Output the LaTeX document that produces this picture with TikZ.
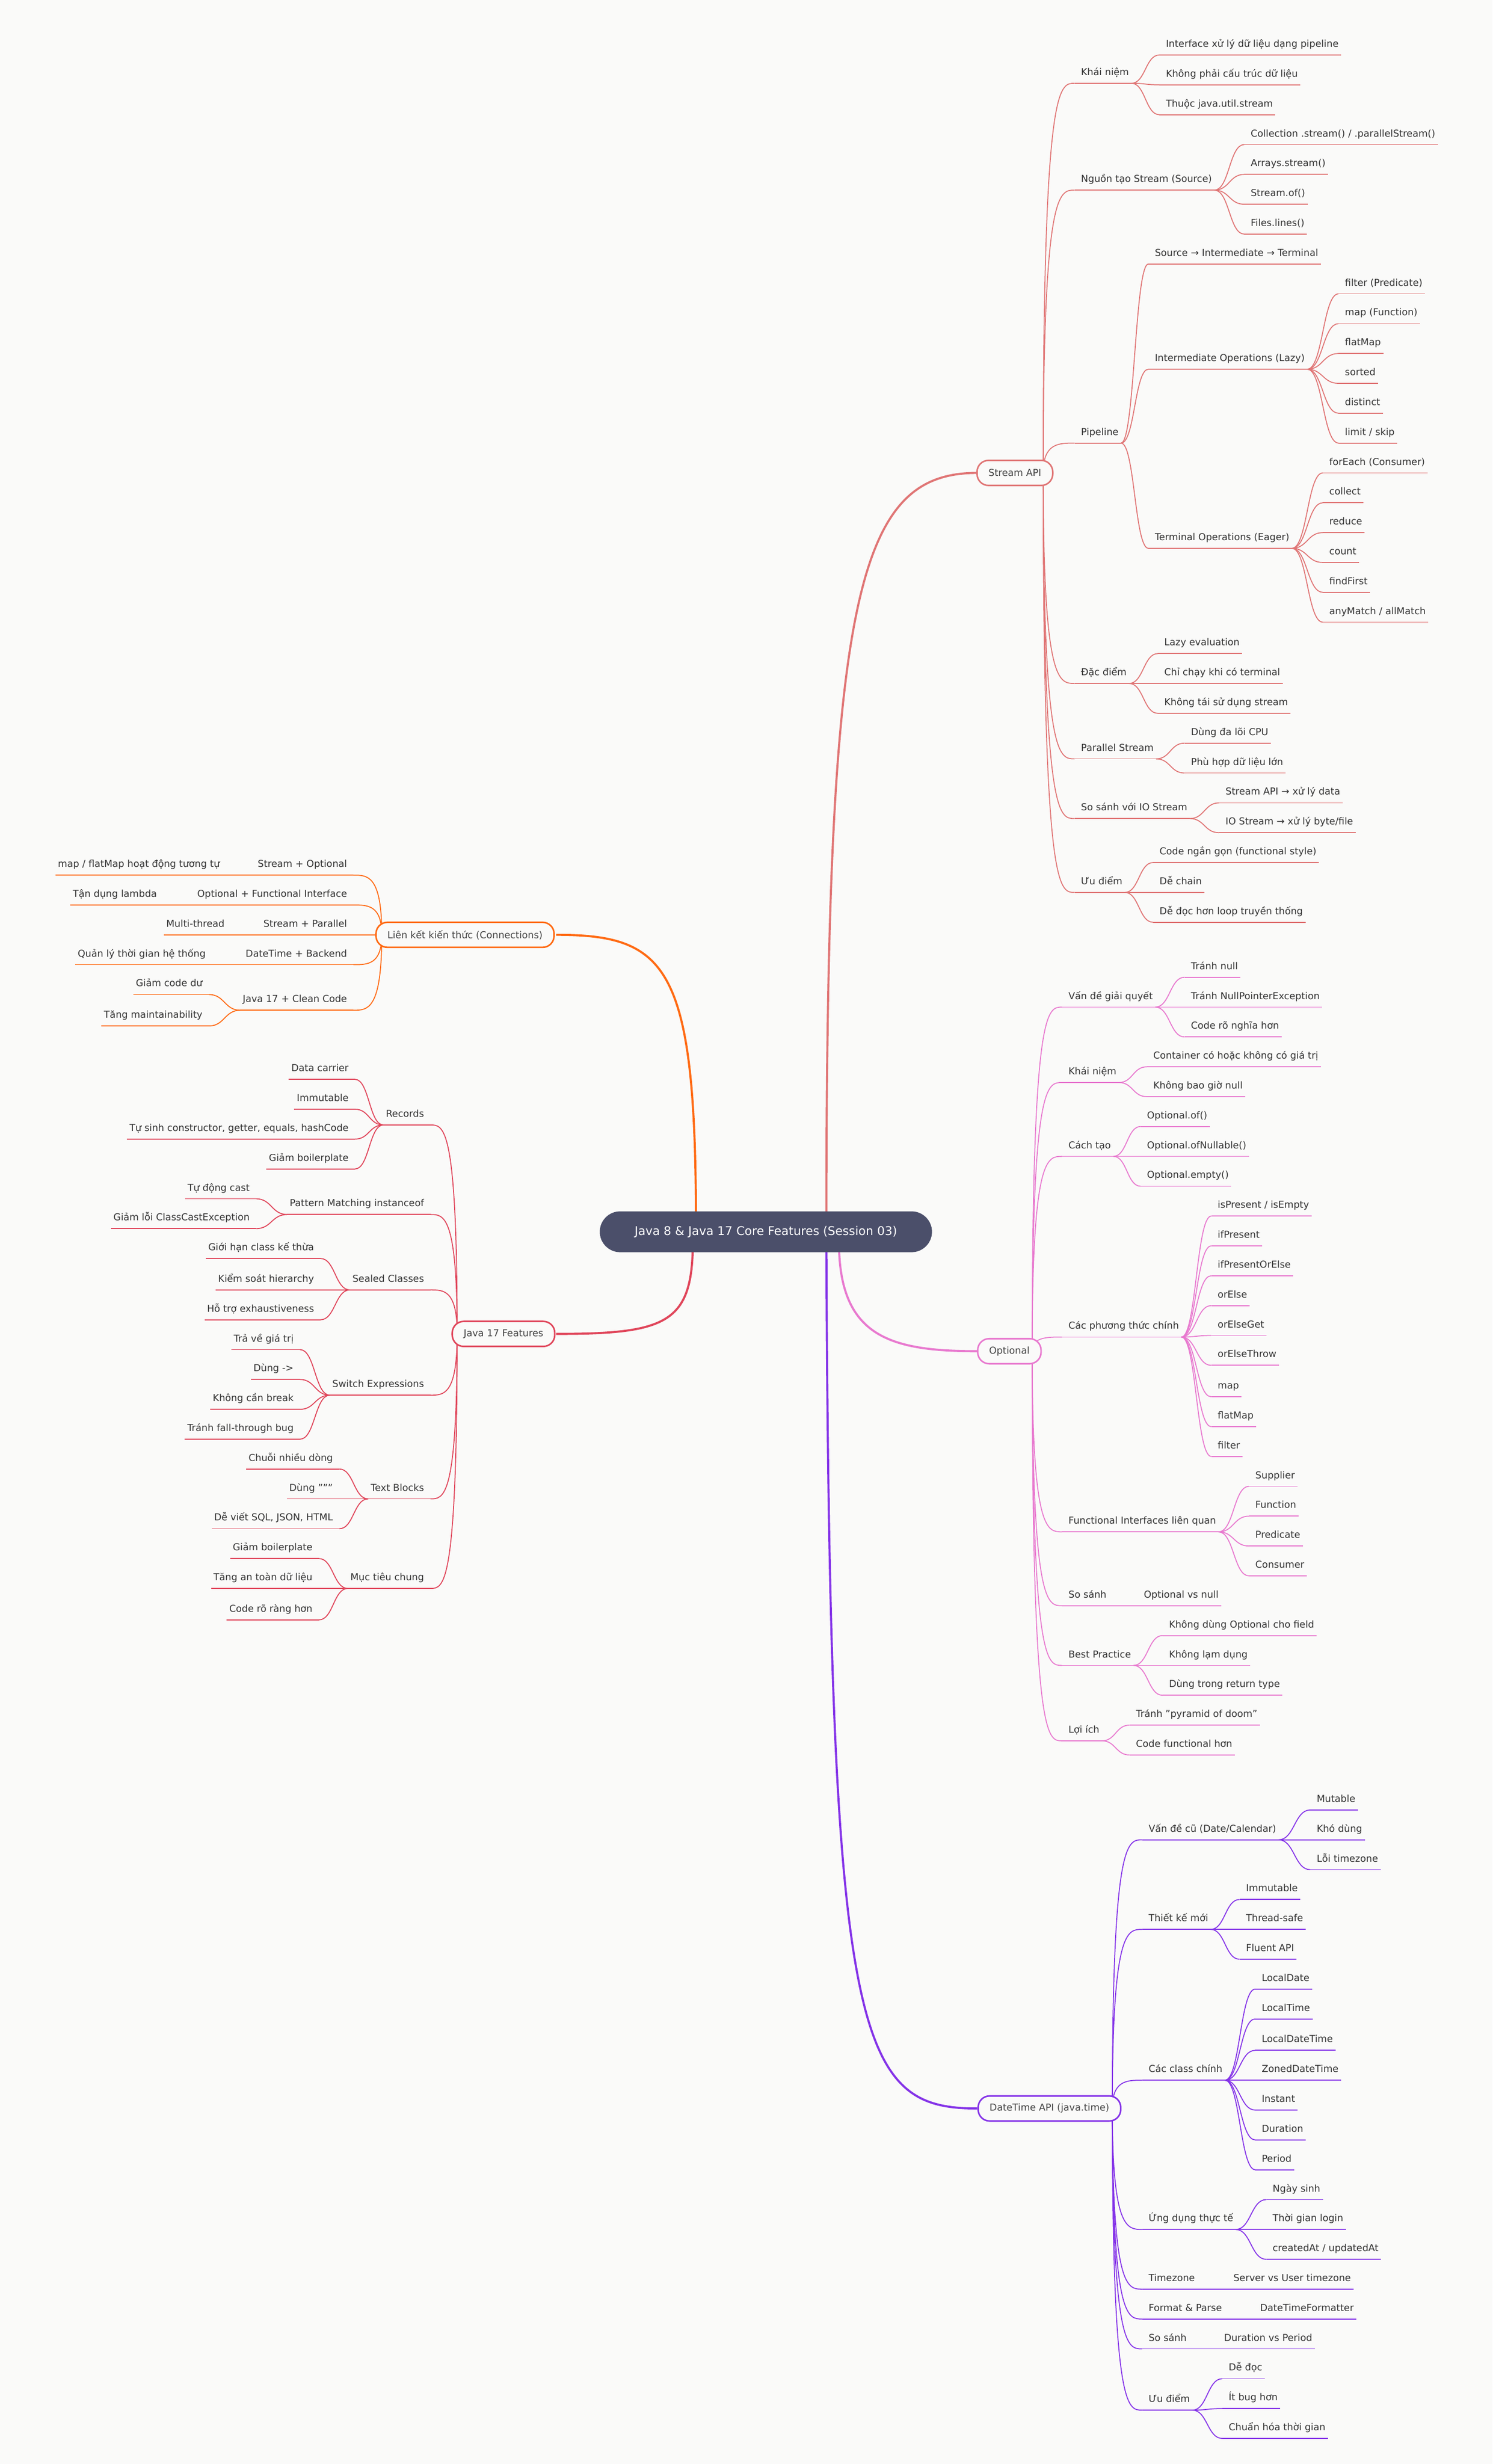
\documentclass[tikz,border=0pt]{standalone}
\usepackage{fontspec}
\setmainfont{DejaVu Sans}
\usetikzlibrary{calc}
\definecolor{bg}{HTML}{FAFAF9}
\definecolor{txtc}{HTML}{333333}
\definecolor{boxtxt}{HTML}{444444}
\definecolor{rootc}{HTML}{4B4F6A}
\definecolor{cstream}{HTML}{E07575}
\definecolor{copt}{HTML}{E879CF}
\definecolor{cdt}{HTML}{8433E8}
\definecolor{cconn}{HTML}{FF6A13}
\definecolor{cjava}{HTML}{E0455A}
\colorlet{cur}{cstream}
\newcommand\RT[4]{%
  \node[tx,anchor=base west] (#1) at (#2,{#3+3}) {#4};
  \coordinate (#1L) at ({#2-4},{#3+8});
  \coordinate (#1R) at ($(#1.east |- #1L)+(1.5,0)$);
  \draw[ul] (#1L) -- (#1R);}
\newcommand\LT[4]{%
  \node[tx,anchor=base east] (#1) at (#2,{#3+3}) {#4};
  \coordinate (#1R) at ({#2+4},{#3+8});
  \coordinate (#1L) at ($(#1.west |- #1R)+(-1.5,0)$);
  \draw[ul] (#1L) -- (#1R);}
% right connector parent -> child
\newcommand\RC[2]{\draw[cn] let \p1=(#1R), \p2=(#2L) in (\p1) .. controls ({(\x1+\x2)/2},\y1) and ({(\x1+\x2)/2},\y2) .. (\p2);}
\newcommand\LC[2]{\draw[cn] let \p1=(#1L), \p2=(#2R) in (\p1) .. controls ({(\x1+\x2)/2},\y1) and ({(\x1+\x2)/2},\y2) .. (\p2);}
% hub connectors
\newcommand\HR[2]{\draw[cn] let \p1=(#1), \p2=(#2L) in (\p1) .. controls (\x1,\y2) and ({(\x1+\x2)/2},\y2) .. (\p2);}
\newcommand\HL[2]{\draw[cn] let \p1=(#1), \p2=(#2R) in (\p1) .. controls (\x1,\y2) and ({(\x1+\x2)/2},\y2) .. (\p2);}
\begin{document}
\begin{tikzpicture}[x=0.0577cm,y=-0.0577cm,
  tx/.style={font=\fontsize{10}{12}\selectfont, text=txtc, inner sep=0pt},
  ul/.style={draw=cur, line width=1pt},
  cn/.style={draw=cur, line width=1pt},
  thick line/.style={line width=2.2pt},
  brbox/.style={draw=cur, fill=bg, line width=1.6pt, rounded corners=0.42cm, minimum height=0.92cm, inner xsep=0.42cm, font=\fontsize{10}{12}\selectfont, text=boxtxt}]
\fill[bg] (0,0) rectangle (950,1568.3);
\useasboundingbox (0,0) rectangle (950,1568.3);

% ---------- root connectors ----------
\coordinate (rtS) at (526,780);
\coordinate (rtO) at (534,790);
\coordinate (rtD) at (526,790);
\coordinate (rtJ) at (441,790);
\coordinate (rtC) at (443,780);
\coordinate (bS) at (622,301);
\coordinate (bO) at (622,860);
\coordinate (bD) at (622,1342);
\coordinate (bJ) at (354,849);
\coordinate (bC) at (354,595);
\draw[cstream,thick line] (rtS) .. controls (526,380) and (545,301) .. (bS);
\draw[copt,thick line] (rtO) .. controls (534,850) and (565,860) .. (bO);
\draw[cdt,thick line] (rtD) .. controls (528,1300) and (545,1342) .. (bD);
\draw[cjava,thick line] (rtJ) .. controls (441,842) and (425,849) .. (bJ);
\draw[cconn,thick line] (rtC) .. controls (443,615) and (425,595) .. (bC);

% ================= STREAM API =================
\colorlet{cur}{cstream}
\coordinate (hS) at (664,301);
\RT{s1}{688}{45}{Khái niệm}
\RT{s11}{742}{27}{Interface xử lý dữ liệu dạng pipeline}
\RT{s12}{742}{46}{Không phải cấu trúc dữ liệu}
\RT{s13}{742}{65}{Thuộc java.util.stream}
\RT{s2}{688}{113}{Nguồn tạo Stream (Source)}
\RT{s21}{796}{84}{Collection .stream() / .parallelStream()}
\RT{s22}{796}{103}{Arrays.stream()}
\RT{s23}{796}{122}{Stream.of()}
\RT{s24}{796}{141}{Files.lines()}
\RT{s3}{688}{274}{Pipeline}
\RT{s31}{735}{160}{Source → Intermediate → Terminal}
\RT{s32}{735}{227}{Intermediate Operations (Lazy)}
\RT{s321}{856}{179}{filter (Predicate)}
\RT{s322}{856}{198}{map (Function)}
\RT{s323}{856}{217}{flatMap}
\RT{s324}{856}{236}{sorted}
\RT{s325}{856}{255}{distinct}
\RT{s326}{856}{274}{limit / skip}
\RT{s33}{735}{341}{Terminal Operations (Eager)}
\RT{s331}{846}{293}{forEach (Consumer)}
\RT{s332}{846}{312}{collect}
\RT{s333}{846}{331}{reduce}
\RT{s334}{846}{350}{count}
\RT{s335}{846}{369}{findFirst}
\RT{s336}{846}{388}{anyMatch / allMatch}
\RT{s4}{688}{427}{Đặc điểm}
\RT{s41}{741}{408}{Lazy evaluation}
\RT{s42}{741}{427}{Chỉ chạy khi có terminal}
\RT{s43}{741}{446}{Không tái sử dụng stream}
\RT{s5}{688}{475}{Parallel Stream}
\RT{s51}{758}{465}{Dùng đa lõi CPU}
\RT{s52}{758}{484}{Phù hợp dữ liệu lớn}
\RT{s6}{688}{513}{So sánh với IO Stream}
\RT{s61}{780}{503}{Stream API → xử lý data}
\RT{s62}{780}{522}{IO Stream → xử lý byte/file}
\RT{s7}{688}{560}{Ưu điểm}
\RT{s71}{738}{541}{Code ngắn gọn (functional style)}
\RT{s72}{738}{560}{Dễ chain}
\RT{s73}{738}{579}{Dễ đọc hơn loop truyền thống}
\foreach \c in {s1,s2,s3,s4,s5,s6,s7} {\HR{hS}{\c}}
\foreach \c in {s11,s12,s13} {\RC{s1}{\c}}
\foreach \c in {s21,s22,s23,s24} {\RC{s2}{\c}}
\foreach \c in {s31,s32,s33} {\RC{s3}{\c}}
\foreach \c in {s321,s322,s323,s324,s325,s326} {\RC{s32}{\c}}
\foreach \c in {s331,s332,s333,s334,s335,s336} {\RC{s33}{\c}}
\foreach \c in {s41,s42,s43} {\RC{s4}{\c}}
\foreach \c in {s51,s52} {\RC{s5}{\c}}
\foreach \c in {s61,s62} {\RC{s6}{\c}}
\foreach \c in {s71,s72,s73} {\RC{s7}{\c}}
\node[brbox] (stream) at (646,301) {Stream API};

% ================= OPTIONAL =================
\colorlet{cur}{copt}
\coordinate (hO) at (657,860);
\RT{o1}{680}{633}{Vấn đề giải quyết}
\RT{o11}{758}{614}{Tránh null}
\RT{o12}{758}{633}{Tránh NullPointerException}
\RT{o13}{758}{652}{Code rõ nghĩa hơn}
\RT{o2}{680}{681}{Khái niệm}
\RT{o21}{734}{671}{Container có hoặc không có giá trị}
\RT{o22}{734}{690}{Không bao giờ null}
\RT{o3}{680}{728}{Cách tạo}
\RT{o31}{730}{709}{Optional.of()}
\RT{o32}{730}{728}{Optional.ofNullable()}
\RT{o33}{730}{747}{Optional.empty()}
\RT{o4}{680}{843}{Các phương thức chính}
\RT{o41}{775}{766}{isPresent / isEmpty}
\RT{o42}{775}{785}{ifPresent}
\RT{o43}{775}{804}{ifPresentOrElse}
\RT{o44}{775}{823}{orElse}
\RT{o45}{775}{842}{orElseGet}
\RT{o46}{775}{861}{orElseThrow}
\RT{o47}{775}{881}{map}
\RT{o48}{775}{900}{flatMap}
\RT{o49}{775}{919}{filter}
\RT{o5}{680}{967}{Functional Interfaces liên quan}
\RT{o51}{799}{938}{Supplier}
\RT{o52}{799}{957}{Function}
\RT{o53}{799}{976}{Predicate}
\RT{o54}{799}{995}{Consumer}
\RT{o6}{680}{1014}{So sánh}
\RT{o61}{728}{1014}{Optional vs null}
\RT{o7}{680}{1052}{Best Practice}
\RT{o71}{744}{1033}{Không dùng Optional cho field}
\RT{o72}{744}{1052}{Không lạm dụng}
\RT{o73}{744}{1071}{Dùng trong return type}
\RT{o8}{680}{1100}{Lợi ích}
\RT{o81}{723}{1090}{Tránh "pyramid of doom"}
\RT{o82}{723}{1109}{Code functional hơn}
\foreach \c in {o1,o2,o3,o4,o5,o6,o7,o8} {\HR{hO}{\c}}
\foreach \c in {o11,o12,o13} {\RC{o1}{\c}}
\foreach \c in {o21,o22} {\RC{o2}{\c}}
\foreach \c in {o31,o32,o33} {\RC{o3}{\c}}
\foreach \c in {o41,o42,o43,o44,o45,o46,o47,o48,o49} {\RC{o4}{\c}}
\foreach \c in {o51,o52,o53,o54} {\RC{o5}{\c}}
\RC{o6}{o61}
\foreach \c in {o71,o72,o73} {\RC{o7}{\c}}
\foreach \c in {o81,o82} {\RC{o8}{\c}}
\node[brbox] (optional) at (642.5,860) {Optional};

% ================= DATETIME =================
\colorlet{cur}{cdt}
\coordinate (hD) at (708,1342);
\RT{d1}{731}{1163}{Vấn đề cũ (Date/Calendar)}
\RT{d11}{838}{1144}{Mutable}
\RT{d12}{838}{1163}{Khó dùng}
\RT{d13}{838}{1182}{Lỗi timezone}
\RT{d2}{731}{1220}{Thiết kế mới}
\RT{d21}{793}{1201}{Immutable}
\RT{d22}{793}{1220}{Thread-safe}
\RT{d23}{793}{1239}{Fluent API}
\RT{d3}{731}{1316}{Các class chính}
\RT{d31}{803}{1258}{LocalDate}
\RT{d32}{803}{1277}{LocalTime}
\RT{d33}{803}{1297}{LocalDateTime}
\RT{d34}{803}{1316}{ZonedDateTime}
\RT{d35}{803}{1335}{Instant}
\RT{d36}{803}{1354}{Duration}
\RT{d37}{803}{1373}{Period}
\RT{d4}{731}{1411}{Ứng dụng thực tế}
\RT{d41}{810}{1392}{Ngày sinh}
\RT{d42}{810}{1411}{Thời gian login}
\RT{d43}{810}{1430}{createdAt / updatedAt}
\RT{d5}{731}{1449}{Timezone}
\RT{d51}{785}{1449}{Server vs User timezone}
\RT{d6}{731}{1468}{Format \& Parse}
\RT{d61}{802}{1468}{DateTimeFormatter}
\RT{d7}{731}{1487}{So sánh}
\RT{d71}{779}{1487}{Duration vs Period}
\RT{d8}{731}{1526}{Ưu điểm}
\RT{d81}{782}{1506}{Dễ đọc}
\RT{d82}{782}{1525}{Ít bug hơn}
\RT{d83}{782}{1544}{Chuẩn hóa thời gian}
\foreach \c in {d1,d2,d3,d4,d5,d6,d7,d8} {\HR{hD}{\c}}
\foreach \c in {d11,d12,d13} {\RC{d1}{\c}}
\foreach \c in {d21,d22,d23} {\RC{d2}{\c}}
\foreach \c in {d31,d32,d33,d34,d35,d36,d37} {\RC{d3}{\c}}
\foreach \c in {d41,d42,d43} {\RC{d4}{\c}}
\RC{d5}{d51}
\RC{d6}{d61}
\RC{d7}{d71}
\foreach \c in {d81,d82,d83} {\RC{d8}{\c}}
\node[brbox] (datetime) at (668,1342) {DateTime API (java.time)};

% ================= CONNECTIONS =================
\colorlet{cur}{cconn}
\coordinate (hC) at (243,595);
\LT{c1}{221}{549}{Stream + Optional}
\LT{c11}{140}{549}{map / flatMap hoạt động tương tự}
\LT{c2}{221}{568}{Optional + Functional Interface}
\LT{c21}{100}{568}{Tận dụng lambda}
\LT{c3}{221}{587}{Stream + Parallel}
\LT{c31}{143}{587}{Multi-thread}
\LT{c4}{221}{606}{DateTime + Backend}
\LT{c41}{131}{606}{Quản lý thời gian hệ thống}
\LT{c5}{221}{635}{Java 17 + Clean Code}
\LT{c51}{129}{625}{Giảm code dư}
\LT{c52}{129}{645}{Tăng maintainability}
\foreach \c in {c1,c2,c3,c4,c5} {\HL{hC}{\c}}
\LC{c1}{c11}
\LC{c2}{c21}
\LC{c3}{c31}
\LC{c4}{c41}
\LC{c5}{c51}
\LC{c5}{c52}
\node[brbox] (conn) at (296,595) {Liên kết kiến thức (Connections)};

% ================= JAVA 17 =================
\colorlet{cur}{cjava}
\coordinate (hJ) at (291,849);
\LT{j1}{270}{708}{Records}
\LT{j11}{222}{679}{Data carrier}
\LT{j12}{222}{698}{Immutable}
\LT{j13}{222}{717}{Tự sinh constructor, getter, equals, hashCode}
\LT{j14}{222}{736}{Giảm boilerplate}
\LT{j2}{270}{765}{Pattern Matching instanceof}
\LT{j21}{159}{755}{Tự động cast}
\LT{j22}{159}{774}{Giảm lỗi ClassCastException}
\LT{j3}{270}{813}{Sealed Classes}
\LT{j31}{200}{793}{Giới hạn class kế thừa}
\LT{j32}{200}{813}{Kiểm soát hierarchy}
\LT{j33}{200}{832}{Hỗ trợ exhaustiveness}
\LT{j4}{270}{880}{Switch Expressions}
\LT{j41}{187}{851}{Trả về giá trị}
\LT{j42}{187}{870}{Dùng ->}
\LT{j43}{187}{889}{Không cần break}
\LT{j44}{187}{908}{Tránh fall-through bug}
\LT{j5}{270}{946}{Text Blocks}
\LT{j51}{212}{927}{Chuỗi nhiều dòng}
\LT{j52}{212}{946}{Dùng """}
\LT{j53}{212}{965}{Dễ viết SQL, JSON, HTML}
\LT{j6}{270}{1003}{Mục tiêu chung}
\LT{j61}{199}{984}{Giảm boilerplate}
\LT{j62}{199}{1003}{Tăng an toàn dữ liệu}
\LT{j63}{199}{1023}{Code rõ ràng hơn}
\foreach \c in {j1,j2,j3,j4,j5,j6} {\HL{hJ}{\c}}
\foreach \c in {j11,j12,j13,j14} {\LC{j1}{\c}}
\foreach \c in {j21,j22} {\LC{j2}{\c}}
\foreach \c in {j31,j32,j33} {\LC{j3}{\c}}
\foreach \c in {j41,j42,j43,j44} {\LC{j4}{\c}}
\foreach \c in {j51,j52,j53} {\LC{j5}{\c}}
\foreach \c in {j61,j62,j63} {\LC{j6}{\c}}
\node[brbox] (java) at (320.5,849) {Java 17 Features};

% ================= ROOT =================
\node[fill=rootc, rounded corners=0.75cm, minimum width=12.2cm, minimum height=1.5cm, text=white, font=\fontsize{12.5}{15}\selectfont] (root) at (487.5,784) {Java 8 \& Java 17 Core Features (Session 03)};
\end{tikzpicture}
\end{document}
